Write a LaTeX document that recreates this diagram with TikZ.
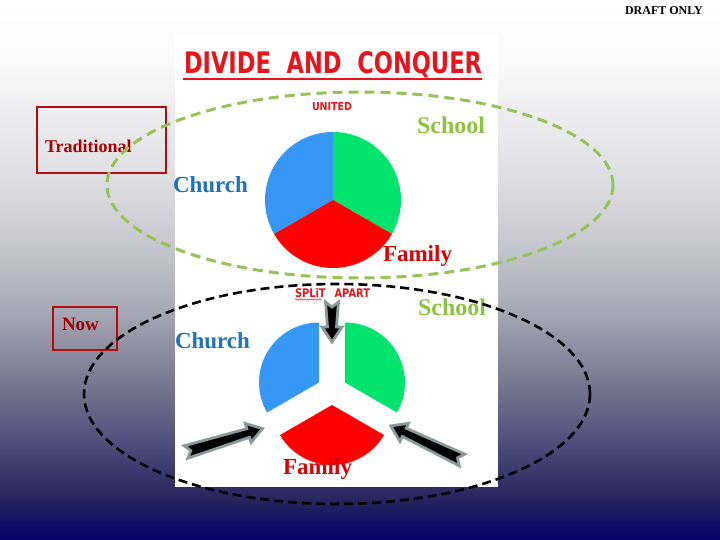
\documentclass[tikz,border=0pt]{standalone}
\usepackage{fontspec}
\setmainfont{Liberation Serif}
\newfontfamily\titlefont{DejaVu Sans}
\usetikzlibrary{decorations.pathmorphing}
\definecolor{bg0}{HTML}{FFFFFF}
\definecolor{bg1}{HTML}{FAFAFA}
\definecolor{bg2}{HTML}{F0F0F2}
\definecolor{bg3}{HTML}{E0E0E4}
\definecolor{bg4}{HTML}{CCCCD2}
\definecolor{bg5}{HTML}{AEAEBA}
\definecolor{bg6}{HTML}{8E8CA0}
\definecolor{bg7}{HTML}{6E6C8A}
\definecolor{bg8}{HTML}{4A4878}
\definecolor{bg9}{HTML}{25245E}
\definecolor{bg10}{HTML}{02026A}
\definecolor{boxred}{HTML}{B00D0D}
\definecolor{tradred}{HTML}{A00000}
\definecolor{churchblue}{HTML}{1F72BA}
\definecolor{schoolgreen}{HTML}{8CC342}
\definecolor{familyred}{HTML}{D80000}
\definecolor{titlered}{HTML}{E8141B}
\definecolor{pieblue}{HTML}{3797F7}
\definecolor{piegreen}{HTML}{00E46E}
\definecolor{piered}{HTML}{FF0000}
\definecolor{dashgreen}{HTML}{94C356}
\definecolor{arrowgray}{HTML}{8A9A9A}
\tikzset{
  lbl/.style={anchor=base west, inner sep=0pt, outer sep=0pt},
  redbox/.style={draw=boxred, line width=2.6pt, inner sep=0pt},
  greenring/.style={draw=dashgreen, line width=3pt, dash pattern=on 10pt off 6pt},
  blackring/.style={draw=black, line width=2.6pt, dash pattern=on 9pt off 5pt},
  pics/barrow/.style={code={
    \filldraw[fill=black, draw=arrowgray, line width=2.8pt, line join=miter]
      (0,-6.5) -- ({#1-15},-4.5) -- ({#1-15},-10) -- (#1,0) -- ({#1-15},10)
      -- ({#1-15},4.5) -- (0,6.5) -- (5,0) -- cycle;
  }}
}
\begin{document}
\begin{tikzpicture}[x=1pt,y=-1pt]
\useasboundingbox (0,0) rectangle (720,540);
% background gradient
\shade[top color=bg0, bottom color=bg1] (0,0) rectangle (720,60.5);
\shade[top color=bg1, bottom color=bg2] (0,60) rectangle (720,100.5);
\shade[top color=bg2, bottom color=bg3] (0,100) rectangle (720,170.5);
\shade[top color=bg3, bottom color=bg4] (0,170) rectangle (720,230.5);
\shade[top color=bg4, bottom color=bg5] (0,230) rectangle (720,300.5);
\shade[top color=bg5, bottom color=bg6] (0,300) rectangle (720,350.5);
\shade[top color=bg6, bottom color=bg7] (0,350) rectangle (720,400.5);
\shade[top color=bg7, bottom color=bg8] (0,400) rectangle (720,450.5);
\shade[top color=bg8, bottom color=bg9] (0,450) rectangle (720,500.5);
\shade[top color=bg9, bottom color=bg10] (0,500) rectangle (720,540);
% white panel
\fill[white] (175,35) rectangle (498,487);
% draft label
\node[lbl] (draft) at (625,15) {\fontsize{12}{12}\selectfont\bfseries DRAFT ONLY};
% title
\node[lbl] (title) at (184,74) {\color{titlered}\resizebox{298pt}{22pt}{\titlefont\bfseries DIVIDE\hspace{0.7em}AND\hspace{0.7em}CONQUER}};
\draw[titlered, line width=2pt] (183,79) -- (482,79);
\node[lbl] (united) at (312,111) {\color{titlered}\resizebox{40pt}{8pt}{\titlefont\bfseries UNITED}};
% top pie
\coordinate (pc) at (333,200);
\fill[pieblue] (pc) -- ++(90:68pt) arc[start angle=90, end angle=210, radius=68pt] -- cycle;
\fill[piegreen] (pc) -- ++(-30:68pt) arc[start angle=-30, end angle=90, radius=68pt] -- cycle;
\fill[piered] (pc) -- ++(210:68pt) arc[start angle=210, end angle=330, radius=68pt] -- cycle;
% split pie
\coordinate (sc) at (332,390);
\fill[pieblue] ([shift={(150:15pt)}]sc) -- ++(90:60pt) arc[start angle=90, end angle=210, radius=60pt] -- cycle;
\fill[piegreen] ([shift={(30:15pt)}]sc) -- ++(-30:60pt) arc[start angle=-30, end angle=90, radius=60pt] -- cycle;
\fill[piered] ([shift={(270:15pt)}]sc) -- ++(210:60pt) arc[start angle=210, end angle=330, radius=60pt] -- cycle;
% split apart
\node[lbl] (split) at (295,297) {\color{titlered}\resizebox{75pt}{9pt}{\titlefont\bfseries SPLiT\hspace{0.9em}APART}};
\draw[titlered, line width=0.4pt, decorate, decoration={snake, amplitude=0.6pt, segment length=2pt}] (295,299.5) -- (322,299.5);
% arrows
\coordinate (dtail) at (332,302);
\coordinate (ltail) at (186,452);
\coordinate (rtail) at (462,460);
\pic[rotate=-90] at (dtail) {barrow=40};
\pic[rotate=17] at (ltail) {barrow=80};
\pic[rotate=154.4] at (rtail) {barrow=79};
% labels
\node[redbox, minimum width=129pt, minimum height=66pt] (tradbox) at (101.5,140) {};
\node[lbl] (trad) at (45,153) {\color{tradred}\fontsize{18}{18}\selectfont\bfseries Traditional};
\node[redbox, minimum width=64pt, minimum height=43pt] (nowbox) at (85,328.5) {};
\node[lbl] (now) at (62,330) {\color{tradred}\fontsize{19}{19}\selectfont\bfseries Now};
\node[lbl] (church1) at (173,193) {\color{churchblue}\fontsize{23}{23}\selectfont\bfseries Church};
\node[lbl] (school1) at (417,134) {\color{schoolgreen}\fontsize{24}{24}\selectfont\bfseries School};
\node[lbl] (family1) at (383,261) {\color{familyred}\fontsize{23}{23}\selectfont\bfseries Family};
\node[lbl] (church2) at (175,348) {\color{churchblue}\fontsize{23}{23}\selectfont\bfseries Church};
\node[lbl] (school2) at (418,315) {\color{schoolgreen}\fontsize{24}{24}\selectfont\bfseries School};
\node[lbl] (family2) at (283,474) {\color{familyred}\fontsize{23}{23}\selectfont\bfseries Family};
% rings
\draw[greenring] (360,185) ellipse [x radius=253pt, y radius=93pt];
\draw[blackring] (337,394) ellipse [x radius=253pt, y radius=110pt];
\end{tikzpicture}
\end{document}
